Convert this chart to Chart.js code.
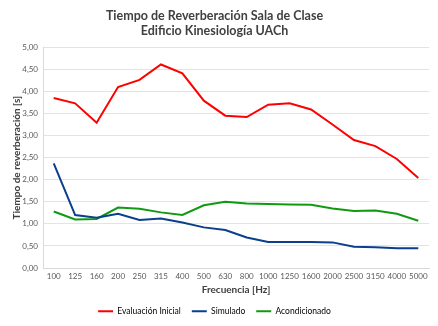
<!DOCTYPE html>
<html><head><meta charset="utf-8">
<script src="https://cdn.jsdelivr.net/npm/chart.js@4/dist/chart.umd.min.js"></script>
<style>html,body{margin:0;padding:0;background:#fff}#w{width:438px;height:326px}</style>
</head><body><div id="w"><canvas id="c"></canvas></div>
<script>
const categories = ["100","125","160","200","250","315","400","500","630","800","1000","1250","1600","2000","2500","3150","4000","5000"];
const evaluacionInicial = [3.85,3.73,3.29,4.10,4.26,4.61,4.41,3.79,3.45,3.42,3.70,3.73,3.59,3.25,2.90,2.76,2.47,2.04];
const simulado = [2.37,1.20,1.14,1.23,1.09,1.12,1.03,0.92,0.86,0.69,0.59,0.59,0.59,0.58,0.48,0.47,0.45,0.45];
const acondicionado = [1.28,1.10,1.11,1.37,1.34,1.26,1.20,1.42,1.50,1.46,1.45,1.44,1.43,1.35,1.29,1.30,1.23,1.07];
const titleLines = ["Tiempo de Reverberación Sala de Clase","Edificio Kinesiología UACh"];
const FONT = "Lato, 'Open Sans', sans-serif";
new Chart(document.getElementById('c'), {
  type: 'line',
  data: {
    labels: categories,
    datasets: [
      {label:'Evaluación Inicial', data: evaluacionInicial, borderColor:'#ff0000', backgroundColor:'#ff0000'},
      {label:'Simulado', data: simulado, borderColor:'#0b3f8c', backgroundColor:'#0b3f8c'},
      {label:'Acondicionado', data: acondicionado, borderColor:'#119a11', backgroundColor:'#119a11'}
    ]
  },
  options: {
    responsive: true, maintainAspectRatio: false, animation: false,
    devicePixelRatio: 1,
    elements: { line: { borderWidth: 2, tension: 0 }, point: { radius: 0 } },
    layout: { padding: { left: 0, right: 9, top: 6, bottom: 0.5 } },
    plugins: {
      title: { display: true, text: titleLines, color: '#404040', font: { family: FONT, size: 12.5, weight: 'bold', lineHeight: 1.25 }, padding: { top: 2, bottom: 8 } },
      legend: { position: 'bottom', labels: { boxWidth: 15, boxHeight: 2, padding: 11, color: '#404040', font: { family: FONT, size: 8.5 },
        generateLabels: (ch) => ch.data.datasets.map((d,i)=>({text:d.label, fillStyle:d.borderColor, strokeStyle:d.borderColor, lineWidth:0, datasetIndex:i, hidden:false})) } },
      tooltip: { enabled: false }
    },
    scales: {
      x: {
        offset: true,
        afterFit: (s) => { s.height = 28; },
        grid: { display: false, drawTicks: false },
        border: { color: '#d9d9d9' },
        ticks: { color: '#595959', font: { family: FONT, size: 8 }, padding: 4, maxRotation: 0, autoSkip: false },
        title: { display: true, text: 'Frecuencia [Hz]', color: '#404040', font: { family: FONT, size: 10, weight: 'bold' }, padding: { top: 2, bottom: 0 } }
      },
      y: {
        min: 0, max: 5,
        afterFit: (s) => { s.width = 43; },
        grid: { color: '#e3e3e3', drawTicks: false },
        border: { color: '#d9d9d9' },
        ticks: { stepSize: 0.5, color: '#595959', font: { family: FONT, size: 8 }, padding: 5,
          callback: (v) => Number(v).toFixed(2).replace('.', ',') },
        title: { display: true, text: 'Tiempo de reverberación [s]', color: '#404040', font: { family: FONT, size: 10, weight: 'bold' }, padding: { top: 11, bottom: 0 } }
      }
    }
  }
});
</script></body></html>
